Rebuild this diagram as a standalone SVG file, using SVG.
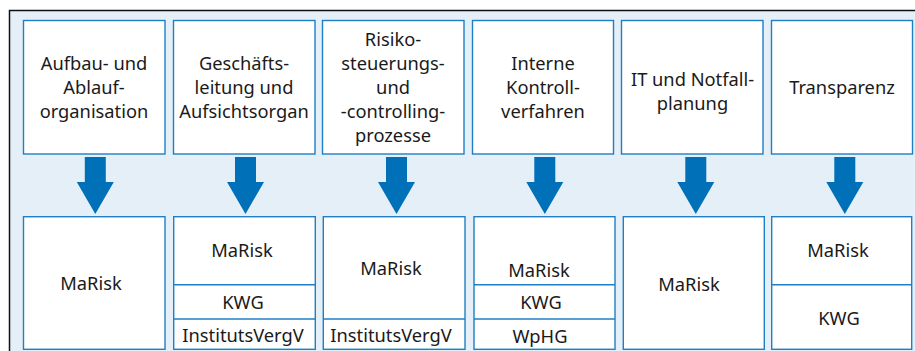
<svg xmlns="http://www.w3.org/2000/svg" width="915" height="351" viewBox="0 0 915 351">
<defs>
<style>
.box{fill:#ffffff;stroke:#1f7fc4;stroke-width:1.4}
.sep{stroke:#1f7fc4;stroke-width:1.4;fill:none}
.t{font-family:"Noto Sans","Liberation Sans",sans-serif;font-size:18.3px;fill:#1a1a1a;text-anchor:middle}
.arr{fill:#0070b8}
</style>
</defs>
<rect x="0" y="0" width="915" height="351" fill="#ffffff"/>
<rect x="9.5" y="10.5" width="915" height="350" fill="#e4eff7"/>
<path d="M9.5 351 V10.5 H915" fill="none" stroke="#111111" stroke-width="1.5"/>

<g id="top1"><rect class="box" x="23.5" y="20.5" width="141.5" height="133.5"/>
<text class="t" x="94" y="70">Aufbau- und</text><text class="t" x="94" y="94">Ablauf-</text><text class="t" x="94" y="118">organisation</text></g>
<g id="top2"><rect class="box" x="173.5" y="20.5" width="141.5" height="133.5"/>
<text class="t" x="244" y="70">Geschäfts-</text><text class="t" x="244" y="94">leitung und</text><text class="t" x="244" y="118">Aufsichtsorgan</text></g>
<g id="top3"><rect class="box" x="322.5" y="20.5" width="141.5" height="133.5"/>
<text class="t" x="393" y="46">Risiko-</text><text class="t" x="393" y="70">steuerungs-</text><text class="t" x="393" y="94">und</text><text class="t" x="393" y="118">-controlling-</text><text class="t" x="393" y="142">prozesse</text></g>
<g id="top4"><rect class="box" x="472.5" y="20.5" width="141" height="133.5"/>
<text class="t" x="543" y="70">Interne</text><text class="t" x="543" y="94">Kontroll-</text><text class="t" x="543" y="118">verfahren</text></g>
<g id="top5"><rect class="box" x="621.5" y="20.5" width="141.5" height="133.5"/>
<text class="t" x="692.5" y="86">IT und Notfall-</text><text class="t" x="692.5" y="110">planung</text></g>
<g id="top6"><rect class="box" x="771.5" y="20.5" width="141" height="133.5"/>
<text class="t" x="842" y="94">Transparenz</text></g>

<g id="connectors">
<polygon class="arr" points="84.8,157 105.8,157 105.8,182 113.8,182 95.3,214 76.8,182 84.8,182"/>
<polygon class="arr" points="235,157 256,157 256,182 264,182 245.5,214 227,182 235,182"/>
<polygon class="arr" points="386,157 407,157 407,182 415,182 396.5,214 378,182 386,182"/>
<polygon class="arr" points="534.3,157 555.3,157 555.3,182 563.3,182 544.8,214 526.3,182 534.3,182"/>
<polygon class="arr" points="685.3,157 706.3,157 706.3,182 714.3,182 695.8,214 677.3,182 685.3,182"/>
<polygon class="arr" points="834.3,157 855.3,157 855.3,182 863.3,182 844.8,214 826.3,182 834.3,182"/>
</g>

<g id="bot1"><rect class="box" x="23.5" y="216.7" width="141.5" height="132.6"/>
<text class="t" x="91" y="290">MaRisk</text></g>
<g id="bot2"><rect class="box" x="173.7" y="216.7" width="141.6" height="132.6"/>
<line class="sep" x1="173.7" y1="284.7" x2="315.3" y2="284.7"/><line class="sep" x1="173.7" y1="319" x2="315.3" y2="319"/>
<text class="t" x="242" y="257.3">MaRisk</text><text class="t" x="243" y="309.3">KWG</text><text class="t" x="243" y="341.7">InstitutsVergV</text></g>
<g id="bot3"><rect class="box" x="323.3" y="216.7" width="141.7" height="132.6"/>
<line class="sep" x1="323.3" y1="319" x2="465" y2="319"/>
<text class="t" x="391" y="275">MaRisk</text><text class="t" x="391" y="341.7">InstitutsVergV</text></g>
<g id="bot4"><rect class="box" x="474" y="216.7" width="141" height="132.6"/>
<line class="sep" x1="474" y1="284.7" x2="615" y2="284.7"/><line class="sep" x1="474" y1="319" x2="615" y2="319"/>
<text class="t" x="539" y="276.7">MaRisk</text><text class="t" x="541" y="309.3">KWG</text><text class="t" x="540" y="342.7">WpHG</text></g>
<g id="bot5"><rect class="box" x="623.3" y="216.7" width="141" height="132.6"/>
<text class="t" x="689" y="290.7">MaRisk</text></g>
<g id="bot6"><rect class="box" x="771.7" y="216.7" width="140" height="132.6"/>
<line class="sep" x1="771.7" y1="284.7" x2="911.7" y2="284.7"/>
<text class="t" x="838" y="257.3">MaRisk</text><text class="t" x="839" y="325">KWG</text></g>
</svg>
